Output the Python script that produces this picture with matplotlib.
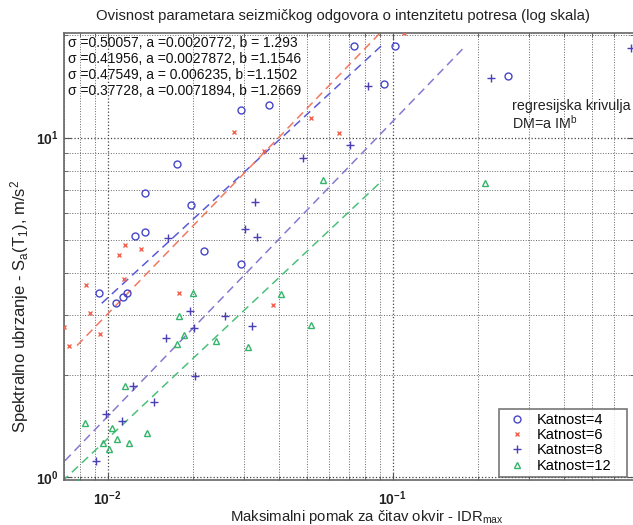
import numpy as np
import matplotlib
matplotlib.use("Agg")
import matplotlib.pyplot as plt
from matplotlib.ticker import LogLocator, FuncFormatter, NullFormatter

plt.rcParams['font.family'] = 'Liberation Sans'
plt.rcParams['mathtext.fontset'] = 'custom'
plt.rcParams['mathtext.rm'] = 'Liberation Sans'
plt.rcParams['mathtext.it'] = 'Liberation Sans:italic'
plt.rcParams['mathtext.bf'] = 'Liberation Sans:bold'

# Katnost=4 (IDR_max, Sa)
idr_4 = [0.02938, 0.03693, 0.0734, 0.1019, 0.0930, 0.2532, 0.01747, 0.01356, 0.01962,
         0.01248, 0.01356, 0.02172, 0.02938, 0.00935, 0.01135, 0.0117, 0.0107]
sa_4 = [12.07, 12.49, 18.63, 18.63, 14.40, 15.20, 8.35, 6.86, 6.34,
        5.13, 5.26, 4.64, 4.24, 3.49, 3.40, 3.49, 3.25]

# Katnost=6
idr_6 = [0.02783, 0.05172, 0.06501, 0.03547, 0.1099, 0.01093, 0.01151, 0.01313,
         0.01144, 0.0084, 0.01785, 0.03793, 0.0087, 0.00705, 0.0094, 0.00734]
sa_6 = [10.41, 11.45, 10.30, 9.16, 20.4, 4.51, 4.82, 4.70,
        3.83, 3.68, 3.48, 3.21, 3.04, 2.77, 2.64, 2.44]

# Katnost=8
idr_8 = [0.0711, 0.04833, 0.0822, 0.2215, 0.688, 0.03298, 0.03034, 0.03333, 0.01633,
         0.01951, 0.02582, 0.03211, 0.02003, 0.01603, 0.02026, 0.01231, 0.01458,
         0.00987, 0.0112, 0.00911]
sa_8 = [9.52, 8.70, 14.20, 14.96, 18.38, 6.45, 5.37, 5.11, 5.07,
        3.08, 2.98, 2.79, 2.74, 2.56, 1.98, 1.85, 1.66,
        1.53, 1.46, 1.117]

# Katnost=12
idr_12 = [0.0571, 0.211, 0.01987, 0.04069, 0.01785, 0.05172, 0.01858, 0.01747, 0.02401,
          0.03117, 0.01154, 0.00835, 0.01036, 0.0137, 0.01075, 0.00966, 0.01191,
          0.01008, 0.00785]
sa_12 = [7.51, 7.34, 3.48, 3.46, 2.98, 2.81, 2.63, 2.46, 2.52,
         2.41, 1.85, 1.445, 1.397, 1.345, 1.29, 1.257, 1.262,
         1.207, 0.969]

# regression DM = a * IM^b
fit_a = [0.0020772, 0.0027872, 0.006235, 0.0071894]
fit_b = [1.293, 1.1546, 1.1502, 1.2669]
fit_text = ["σ =0.50057, a =0.0020772, b = 1.293",
            "σ =0.41956, a =0.0027872, b =1.1546",
            "σ =0.47549, a = 0.006235, b =1.1502",
            "σ =0.37728, a =0.0071894, b =1.2669"]

labels = ["Katnost=4", "Katnost=6", "Katnost=8", "Katnost=12"]
markers = ["o", "x", "+", "^"]
msizes = [5, 3.5, 5.2, 5]
mcolors = ["#4646c8", "#f26450", "#4b3fb5", "#33b46a"]
lcolors = ["#5a5ad6", "#f07a62", "#8a78d0", "#4cc07a"]

W, H = 633, 525
fig = plt.figure(figsize=(W / 100, H / 100), dpi=100)
ax = fig.add_axes([63.5 / W, 45 / H, 570 / W, 446.7 / H])
ax.set_xscale('log')
ax.set_yscale('log')

groups = [(idr_4, sa_4), (idr_6, sa_6), (idr_8, sa_8), (idr_12, sa_12)]
for i, (xs, ys) in enumerate(groups):
    mfc = 'none' if markers[i] in ('o', '^') else mcolors[i]
    ax.plot(xs, ys, linestyle='none', marker=markers[i], ms=msizes[i],
            mfc=mfc, mec=mcolors[i], mew=1.0, label=labels[i], zorder=3)

# fitted curves over the IM range of each group
for i, (xs, ys) in enumerate(groups):
    im = np.geomspace(min(ys), max(ys), 60)
    dm = fit_a[i] * im ** fit_b[i]
    ax.plot(dm, im, linestyle=(0, (5.5, 3.5)), color=lcolors[i], lw=1.1, zorder=2)

ax.set_xlim(0.007, 0.7)
ax.set_ylim(0.98, 20.3)

ax.xaxis.set_major_locator(LogLocator(base=10, numticks=10))
ax.yaxis.set_major_locator(LogLocator(base=10, numticks=10))
ax.xaxis.set_minor_locator(LogLocator(base=10, subs=np.arange(2, 10), numticks=20))
ax.yaxis.set_minor_locator(LogLocator(base=10, subs=np.arange(2, 10), numticks=20))
fmt = FuncFormatter(lambda v, p: r'$\mathbf{10^{%d}}$' % int(round(np.log10(v))))
ax.xaxis.set_major_formatter(fmt)
ax.yaxis.set_major_formatter(fmt)
ax.xaxis.set_minor_formatter(NullFormatter())
ax.yaxis.set_minor_formatter(NullFormatter())
ax.tick_params(which='both', direction='in', top=True, right=True, colors='#555555',
               labelcolor='#222222', labelsize=10)
ax.tick_params(which='major', length=5)
ax.tick_params(which='minor', length=3)
ax.tick_params(axis='x', pad=7)

ax.grid(True, which='major', linestyle=':', color='#444444', lw=0.9)
ax.grid(True, which='minor', linestyle=':', color='#666666', lw=0.7)
for s in ax.spines.values():
    s.set_color('#666666')
    s.set_linewidth(1.2)

for k, t in enumerate(fit_text):
    fig.text(68 / W, 1 - (46.7 + 16 * k) / H, t, fontsize=10, color='#111111')

fig.text(511.7 / W, 1 - 99 / H, "regresijska krivulja\nDM=a IM$^{\\rm b}$", va='top',
         fontsize=10.3, linespacing=1.05, color='#222222')

fig.text(343 / W, 1 - 20 / H, "Ovisnost parametara seizmičkog odgovora o intenzitetu potresa (log skala)",
         ha='center', fontsize=10.7, color='#222222')
fig.text(230 / W, 1 - 520.5 / H, r"Maksimalni pomak za čitav okvir - IDR$_{\rm max}$",
         fontsize=10.7, color='#222222')
fig.text(20 / W, 1 - 306 / H, r"Spektralno ubrzanje - S$_{\rm a}$(T$_{\rm 1}$), m/s$^{\rm 2}$",
         rotation=90, ha='center', va='center', fontsize=12, color='#222222')

leg = ax.legend(loc='lower left',
                bbox_to_anchor=((499 - 63.5) / 570, 3 / 446.7, 128 / 570, 65 / 446.7),
                mode='expand', borderaxespad=0,
                fontsize=10.5, frameon=True, fancybox=False, edgecolor='#555555',
                handlelength=1.8, handletextpad=0.5, labelspacing=0.08,
                borderpad=0.3, numpoints=1)
leg.get_frame().set_linewidth(1.2)

fig.savefig("out.png", dpi=100)
